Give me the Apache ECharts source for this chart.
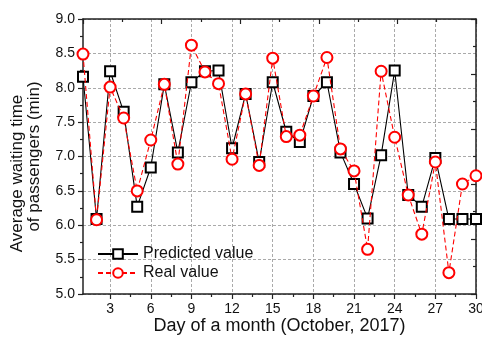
<!DOCTYPE html>
<html>
<head>
<meta charset="utf-8">
<script src="https://cdn.jsdelivr.net/npm/echarts@6/dist/echarts.min.js"></script>
<style>
  html, body { margin: 0; padding: 0; background: #fff; }
  #chart { width: 482px; height: 337px; }
</style>
</head>
<body>
<div id="chart"></div>
<script>
// Days of October 2017
const days = [1,2,3,4,5,6,7,8,9,10,11,12,13,14,15,16,17,18,19,20,21,22,23,24,25,26,27,28,29,30];
// Average waiting time (min)
const predicted = [8.16,6.09,8.24,7.65,6.27,6.84,8.05,7.06,8.08,8.24,8.25,7.12,7.91,6.92,8.08,7.36,7.21,7.88,8.08,7.06,6.60,6.10,7.02,8.25,6.44,6.27,6.98,6.09,6.09,6.09];
const real      = [8.49,6.08,8.01,7.56,6.50,7.24,8.05,6.89,8.62,8.23,8.06,6.96,7.91,6.87,8.43,7.29,7.31,7.88,8.44,7.11,6.79,5.65,8.24,7.28,6.44,5.87,6.92,5.31,6.60,6.72];
// Axis tick values
const dayTicks = [3,6,9,12,15,18,21,24,27,30];
const dayMinorTicks = [4.5,7.5,10.5,13.5,16.5,19.5,22.5,25.5,28.5];
// Axis titles
const xTitle = 'Day of a month (October, 2017)';
const yTitleLine1 = 'Average waiting time';
const yTitleLine2 = 'of passengers (min)';

const pair = (xs, ys) => xs.map((x, i) => [x, ys[i]]);

const FONT = '"Liberation Sans", Arial, sans-serif';
const AXIS_COLOR = '#222';
const GRID_LINE = { show: true, lineStyle: { color: '#aaa', type: [3, 2], width: 1 } };
const HIDDEN = {
  axisLine: { show: false }, axisTick: { show: false },
  axisLabel: { show: false }, splitLine: { show: false }
};

const chart = echarts.init(document.getElementById('chart'), null, { renderer: 'canvas' });

chart.setOption({
  animation: false,
  backgroundColor: '#fff',
  textStyle: { fontFamily: FONT },
  grid: { left: 83, right: 6, top: 19, bottom: 43, containLabel: false, outerBoundsMode: 'none' },
  xAxis: [
    {
      type: 'value', position: 'bottom', min: 1, max: 30,
      name: xTitle,
      nameLocation: 'middle', nameGap: 23, nameMoveOverlap: false,
      nameTextStyle: { fontSize: 18, color: '#111', fontFamily: FONT },
      axisLine: { show: true, lineStyle: { color: AXIS_COLOR, width: 1.5 } },
      axisTick: { show: true, inside: false, length: 5, customValues: dayTicks, lineStyle: { color: AXIS_COLOR, width: 1.2 } },
      axisLabel: { show: true, customValues: dayTicks, fontSize: 14, color: '#111', margin: 8, fontFamily: FONT },
      splitLine: GRID_LINE
    },
    {
      type: 'value', position: 'bottom', min: 1, max: 30,
      axisLine: { show: false },
      axisTick: { show: true, inside: false, length: 3, customValues: dayMinorTicks, lineStyle: { color: AXIS_COLOR, width: 1.2 } },
      axisLabel: { show: false },
      splitLine: { show: false }
    },
    {
      type: 'value', position: 'top', min: 0, max: 10, interval: 2,
      axisLine: { show: true, lineStyle: { color: AXIS_COLOR, width: 1.5 } },
      axisTick: { show: true, inside: true, length: 5, lineStyle: { color: AXIS_COLOR, width: 1.2 } },
      minorTick: { show: true, splitNumber: 2, length: 3, lineStyle: { color: AXIS_COLOR, width: 1.2 } },
      axisLabel: { show: false },
      splitLine: { show: false }
    }
  ],
  yAxis: [
    {
      type: 'value', position: 'left', min: 5, max: 9, interval: 0.5,
      name: yTitleLine2,
      nameLocation: 'middle', nameGap: 40, nameRotate: 90, nameMoveOverlap: false,
      nameTextStyle: { fontSize: 17, color: '#111', fontFamily: FONT },
      axisLine: { show: true, lineStyle: { color: AXIS_COLOR, width: 1.5 } },
      axisTick: { show: true, inside: false, length: 5, lineStyle: { color: AXIS_COLOR, width: 1.2 } },
      minorTick: { show: true, splitNumber: 2, length: 3, lineStyle: { color: AXIS_COLOR, width: 1.2 } },
      axisLabel: { fontSize: 14, color: '#111', margin: 8, formatter: v => v.toFixed(1), fontFamily: FONT },
      splitLine: GRID_LINE
    },
    {
      type: 'value', position: 'right', min: 0, max: 10, interval: 2,
      axisLine: { show: true, lineStyle: { color: AXIS_COLOR, width: 1.5 } },
      axisTick: { show: true, inside: true, length: 5, lineStyle: { color: AXIS_COLOR, width: 1.2 } },
      minorTick: { show: true, splitNumber: 2, length: 3, lineStyle: { color: AXIS_COLOR, width: 1.2 } },
      axisLabel: { show: false },
      splitLine: { show: false }
    },
    Object.assign({
      type: 'value', position: 'left', offset: 0, min: 5, max: 9, interval: 0.5,
      name: yTitleLine1,
      nameLocation: 'middle', nameGap: 57, nameRotate: 90, nameMoveOverlap: false,
      nameTextStyle: { fontSize: 17, color: '#111', fontFamily: FONT, padding: [0, 34, 0, 0] }
    }, HIDDEN)
  ],
  legend: {
    orient: 'vertical', left: 92, top: 241,
    itemWidth: 40, itemHeight: 12, itemGap: 3,
    textStyle: { fontSize: 16, color: '#111', fontFamily: FONT },
    data: ['Predicted value', 'Real value']
  },
  series: [
    {
      name: 'Predicted value', type: 'line',
      xAxisIndex: 0, yAxisIndex: 0,
      data: pair(days, predicted),
      symbol: 'emptyRect', symbolSize: 10,
      lineStyle: { color: '#000', width: 1.1 },
      itemStyle: { color: '#000', borderColor: '#000', borderWidth: 1 },
      z: 2
    },
    {
      name: 'Real value', type: 'line',
      xAxisIndex: 0, yAxisIndex: 0,
      data: pair(days, real),
      symbol: 'emptyCircle', symbolSize: 11,
      lineStyle: { color: '#ff0000', width: 1.1, type: [5, 3] },
      itemStyle: { color: '#ff0000', borderColor: '#ff0000', borderWidth: 1 },
      z: 3
    }
  ]
});
</script>
</body>
</html>
